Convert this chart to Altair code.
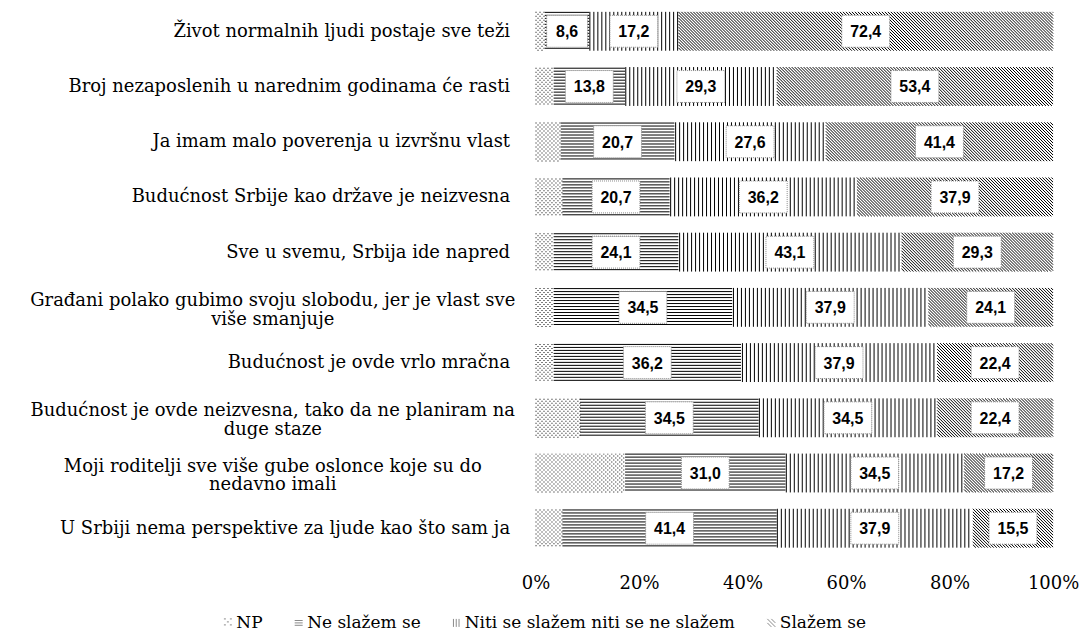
import json
import altair as alt
import pandas as pd

# ---------------- data ----------------
statements = [
    ["Život normalnih ljudi postaje sve teži"],
    ["Broj nezaposlenih u narednim godinama će rasti"],
    ["Ja imam malo poverenja u izvršnu vlast"],
    ["Budućnost Srbije kao države je neizvesna"],
    ["Sve u svemu, Srbija ide napred"],
    ["Građani polako gubimo svoju slobodu, jer je vlast sve", "više smanjuje"],
    ["Budućnost je ovde vrlo mračna"],
    ["Budućnost je ovde neizvesna, tako da ne planiram na", "duge staze"],
    ["Moji roditelji sve više gube oslonce koje su do", "nedavno imali"],
    ["U Srbiji nema perspektive za ljude kao što sam ja"],
]
categories = ["NP", "Ne slažem se", "Niti se slažem niti se ne slažem", "Slažem se"]
np_vals = [1.8, 3.5, 4.6, 5.2, 3.5, 3.5, 3.5, 8.6, 17.3, 5.2]
ne_vals = [8.6, 13.8, 20.7, 20.7, 24.1, 34.5, 36.2, 34.5, 31.0, 41.4]
niti_vals = [17.2, 29.3, 27.6, 36.2, 43.1, 37.9, 37.9, 34.5, 34.5, 37.9]
slazem_vals = [72.4, 53.4, 41.4, 37.9, 29.3, 24.1, 22.4, 22.4, 17.2, 15.5]
x_ticks = [0, 0.2, 0.4, 0.6, 0.8, 1.0]

rows = []
for i in range(len(statements)):
    for j, vals in enumerate([np_vals, ne_vals, niti_vals, slazem_vals]):
        rows.append({"row": i, "cat": categories[j], "order": j, "value": vals[i]})
df = pd.DataFrame(rows)

# ---------------- layout / style constants ----------------
W = 519.0            # plot width px
YMIN, YMAX = -0.406, 9.5
H = 548.5            # plot height px
P = H / (YMAX - YMIN)  # px per row
HB = 0.352           # half bar height (rows)
D = 2 * HB * P       # bar height px (45deg diagonal extent)
HSTEP, VSTEP, DSTEP = 3, 4, 3

label_expr = json.dumps(statements, ensure_ascii=False) + "[datum.value]"
multi_idx = [i for i, s in enumerate(statements) if len(s) > 1]
multi_test = f"indexof({json.dumps(multi_idx)}, datum.value) >= 0"

SERIF = "DejaVu Serif"

xscale = alt.Scale(domain=[0, 1], nice=False, zero=False)
yscale = alt.Scale(domain=[YMIN, YMAX], reverse=True, nice=False, zero=False)
xaxis = alt.Axis(values=x_ticks, format=".0%", domain=False, ticks=False, grid=False,
                 labelFont=SERIF, labelFontSize=18, labelColor="black",
                 labelPadding=19, labelFlush=False, labelLimit=0, title=None)
yaxis = alt.Axis(values=list(range(len(statements))), labelExpr=label_expr,
                 domain=False, ticks=False, grid=False, labelFont=SERIF,
                 labelFontSize=18, labelColor="black",
                 labelAlign={"condition": {"test": multi_test, "value": "center"}, "value": "right"},
                 labelPadding={"condition": {"test": multi_test, "value": 264}, "value": 26},
                 labelLineHeight=19, labelOverlap=False, labelFlush=False,
                 labelOffset={"condition": {"test": multi_test, "value": -7}, "value": 0},
                 labelLimit=0, minExtent=529, maxExtent=529, title=None)


def X(f):
    return alt.X(f"{f}:Q", scale=xscale, axis=xaxis, title=None)


def Y(f):
    return alt.Y(f"{f}:Q", scale=yscale, axis=yaxis, title=None)


base = alt.Chart(df).transform_stack(
    stack="value", groupby=["row"], as_=["s0", "s1"], offset="normalize",
    sort=[alt.SortField(field="order", order="ascending")],
).transform_calculate(
    x0px=f"datum.s0*{W}",
    x1px=f"datum.s1*{W}",
    toppx=f"(datum.row-{HB}-({YMIN}))*{P}",
    botpx=f"(datum.row+{HB}-({YMIN}))*{P}",
)

# NP: dotted pattern
dots = base.transform_filter("datum.order == 0").transform_calculate(
    ys="sequence(floor(datum.toppx)+1.5, datum.botpx, 2)"
).transform_flatten(["ys"]).transform_calculate(
    k="round((datum.ys - floor(datum.toppx) - 1.5)/2)"
).transform_calculate(
    xs=f"sequence(floor(datum.x0px)+0.5+(datum.k % 2)*2, datum.x1px, 4)"
).transform_flatten(["xs"]).transform_calculate(
    xv=f"datum.xs/{W}", yv=f"{YMIN} + datum.ys/{P}"
).mark_square(size=1, color="black", opacity=1, strokeWidth=0).encode(
    x=X("xv"), y=Y("yv")
)

# Ne slažem se: horizontal lines
hlines = base.transform_filter("datum.order == 1").transform_calculate(
    ys=f"sequence(floor(datum.toppx)+1.5, datum.botpx, {HSTEP})"
).transform_flatten(["ys"]).transform_calculate(
    yv=f"{YMIN} + datum.ys/{P}"
).mark_rule(color="black", strokeWidth=1).encode(
    x=X("s0"), x2=alt.X2("s1"), y=Y("yv")
)

# Niti: vertical lines
vlines = base.transform_filter("datum.order == 2").transform_calculate(
    xs=f"sequence(floor(datum.x0px)+1.5, datum.x1px-0.5, {VSTEP})"
).transform_flatten(["xs"]).transform_calculate(
    xv=f"datum.xs/{W}", ya=f"datum.row-{HB}", yb=f"datum.row+{HB}"
).mark_rule(color="black", strokeWidth=1).encode(
    x=X("xv"), y=Y("ya"), y2=alt.Y2("yb")
)

# Slažem se: diagonal hatch
diag = base.transform_filter("datum.order == 3").transform_calculate(
    a=f"sequence(datum.x0px - {D}, datum.x1px, {DSTEP})"
).transform_flatten(["a"]).transform_calculate(
    t0=f"max(0, (datum.x0px - datum.a)/{D})",
    t1=f"min(1, (datum.x1px - datum.a)/{D})",
).transform_filter("datum.t1 > datum.t0").transform_calculate(
    xa=f"(datum.a + datum.t0*{D})/{W}",
    xb=f"(datum.a + datum.t1*{D})/{W}",
    ya=f"datum.row - {HB} + datum.t0*{2*HB}",
    yb=f"datum.row - {HB} + datum.t1*{2*HB}",
).mark_rule(color="black", strokeWidth=1).encode(
    x=X("xa"), x2=alt.X2("xb"), y=Y("ya"), y2=alt.Y2("yb")
)

WIDE = "M-1.5,-1H1.5V1H-1.5Z"
NARROW = "M-1.28,-1H1.28V1H-1.28Z"

boxes = base.transform_filter("datum.order > 0").transform_calculate(
    mid="(datum.s0+datum.s1)/2",
    shp=f"datum.value < 10 ? '{NARROW}' : '{WIDE}'",
).mark_point(filled=True, fill="white", stroke="#8a8a8a", strokeWidth=1,
             strokeDash=[1, 1], opacity=1, size=1024).encode(
    x=X("mid"), y=Y("row"), shape=alt.Shape("shp:N", scale=None)
)

texts = base.transform_filter("datum.order > 0").transform_calculate(
    mid="(datum.s0+datum.s1)/2",
    lbl="replace(format(datum.value, '.1f'), '.', ',')",
).mark_text(font="Liberation Sans", fontWeight="bold", fontSize=16,
            color="black", baseline="middle", dy=1).encode(
    x=X("mid"), y=Y("row"), text="lbl:N"
)

symbol_paths = [
    "M-1,-1h0.5M0.5,-1h0.5M-0.25,-0.25h0.5M-1,0.5h0.5M0.5,0.5h0.5",
    "M-1,-0.6H1M-1,0H1M-1,0.6H1",
    "M-0.7,-1V1M0,-1V1M0.7,-1V1",
    "M-1,-1L1,1M-1,0L0,1M0,-1L1,0",
]

legend_layer = alt.Chart(df).mark_point(clip=True, opacity=1, strokeWidth=1,
                                        color="black").encode(
    x=alt.value(-1000), y=alt.value(-1000),
    shape=alt.Shape("cat:N", scale=alt.Scale(domain=categories, range=symbol_paths),
                    legend=alt.Legend(orient="none", legendX=-317, legendY=607,
                                      direction="horizontal", title=None,
                                      labelFont=SERIF, labelFontSize=17,
                                      labelColor="black", labelLimit=0,
                                      symbolSize=64,
                                      symbolStrokeColor="black", symbolStrokeWidth=1,
                                      labelOffset=0, columnPadding=27, padding=0)),
)

chart = alt.layer(dots, hlines, vlines, diag, boxes, texts, legend_layer).properties(
    width=W, height=H, padding={"left": 0, "top": 0, "right": 0, "bottom": 0}
).configure_view(stroke=None)

chart.save("out.html", embed_options={"renderer": "svg", "actions": False})
